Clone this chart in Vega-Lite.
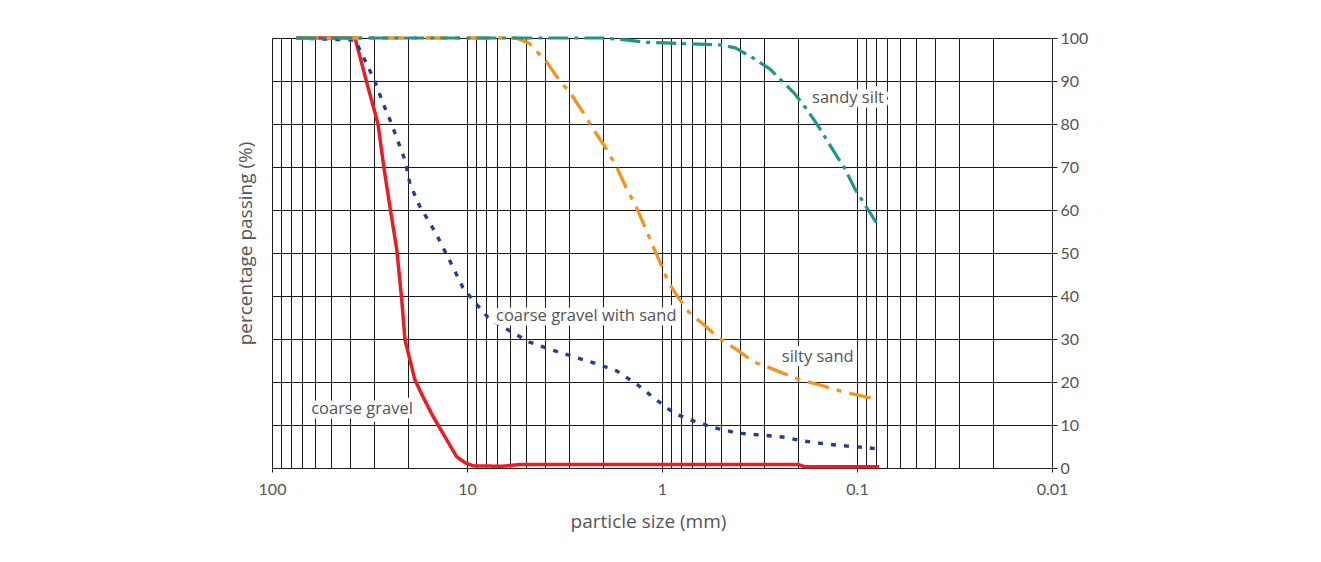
{
  "$schema": "https://vega.github.io/schema/vega-lite/v6.json",
  "width": 780,
  "height": 430,
  "autosize": "none",
  "padding": {"left": 272, "top": 38, "right": 269, "bottom": 94},
  "background": "white",
  "config": {
    "font": "Open Sans",
    "view": {"stroke": null},
    "axis": {
      "labelFont": "Lato",
      "labelFontSize": 16,
      "labelColor": "#555555",
      "titleFont": "Open Sans",
      "titleFontSize": 19,
      "titleFontWeight": "normal",
      "titleColor": "#555555",
      "gridColor": "#1a1a1a",
      "gridWidth": 1,
      "gridOpacity": 1,
      "domainColor": "#222222",
      "tickColor": "#222222",
      "labelFlush": false,
      "labelOverlap": false
    }
  },
  "datasets": {
    "curves": [
      {"series": "coarse gravel", "size": 75, "pct": 100},
      {"series": "coarse gravel", "size": 37.5, "pct": 100},
      {"series": "coarse gravel", "size": 32.6, "pct": 89.5},
      {"series": "coarse gravel", "size": 28.6, "pct": 80},
      {"series": "coarse gravel", "size": 26.7, "pct": 70},
      {"series": "coarse gravel", "size": 25.1, "pct": 62},
      {"series": "coarse gravel", "size": 22.9, "pct": 50.7},
      {"series": "coarse gravel", "size": 21.6, "pct": 39},
      {"series": "coarse gravel", "size": 20.8, "pct": 29.8},
      {"series": "coarse gravel", "size": 18.5, "pct": 20.5},
      {"series": "coarse gravel", "size": 16.8, "pct": 16.5},
      {"series": "coarse gravel", "size": 14.9, "pct": 11.9},
      {"series": "coarse gravel", "size": 13.3, "pct": 8.1},
      {"series": "coarse gravel", "size": 11.3, "pct": 2.6},
      {"series": "coarse gravel", "size": 10.2, "pct": 1.2},
      {"series": "coarse gravel", "size": 9.3, "pct": 0.5},
      {"series": "coarse gravel", "size": 6.6, "pct": 0.4},
      {"series": "coarse gravel", "size": 5.4, "pct": 0.8},
      {"series": "coarse gravel", "size": 0.2, "pct": 0.8},
      {"series": "coarse gravel", "size": 0.185, "pct": 0.3},
      {"series": "coarse gravel", "size": 0.077, "pct": 0.3},

      {"series": "coarse gravel with sand", "size": 75, "pct": 100},
      {"series": "coarse gravel with sand", "size": 37.5, "pct": 99.5},
      {"series": "coarse gravel with sand", "size": 33, "pct": 94.4},
      {"series": "coarse gravel with sand", "size": 29.6, "pct": 89.8},
      {"series": "coarse gravel with sand", "size": 27, "pct": 84.9},
      {"series": "coarse gravel with sand", "size": 24.8, "pct": 80.9},
      {"series": "coarse gravel with sand", "size": 22.9, "pct": 76.7},
      {"series": "coarse gravel with sand", "size": 20.8, "pct": 71.6},
      {"series": "coarse gravel with sand", "size": 19.6, "pct": 66},
      {"series": "coarse gravel with sand", "size": 17.4, "pct": 60.7},
      {"series": "coarse gravel with sand", "size": 14.6, "pct": 55},
      {"series": "coarse gravel with sand", "size": 12.2, "pct": 48},
      {"series": "coarse gravel with sand", "size": 10.5, "pct": 42},
      {"series": "coarse gravel with sand", "size": 9.3, "pct": 39},
      {"series": "coarse gravel with sand", "size": 7.8, "pct": 35},
      {"series": "coarse gravel with sand", "size": 6.25, "pct": 32.3},
      {"series": "coarse gravel with sand", "size": 4.8, "pct": 29.3},
      {"series": "coarse gravel with sand", "size": 3.63, "pct": 27.4},
      {"series": "coarse gravel with sand", "size": 2.9, "pct": 26},
      {"series": "coarse gravel with sand", "size": 2.22, "pct": 24.4},
      {"series": "coarse gravel with sand", "size": 1.71, "pct": 22.6},
      {"series": "coarse gravel with sand", "size": 1.33, "pct": 19.3},
      {"series": "coarse gravel with sand", "size": 1.08, "pct": 16},
      {"series": "coarse gravel with sand", "size": 0.857, "pct": 12.6},
      {"series": "coarse gravel with sand", "size": 0.65, "pct": 10.5},
      {"series": "coarse gravel with sand", "size": 0.51, "pct": 9.1},
      {"series": "coarse gravel with sand", "size": 0.41, "pct": 8.1},
      {"series": "coarse gravel with sand", "size": 0.316, "pct": 7.7},
      {"series": "coarse gravel with sand", "size": 0.24, "pct": 7.2},
      {"series": "coarse gravel with sand", "size": 0.19, "pct": 6.3},
      {"series": "coarse gravel with sand", "size": 0.146, "pct": 5.6},
      {"series": "coarse gravel with sand", "size": 0.112, "pct": 5.1},
      {"series": "coarse gravel with sand", "size": 0.088, "pct": 4.7},
      {"series": "coarse gravel with sand", "size": 0.077, "pct": 4.4},

      {"series": "silty sand", "size": 75, "pct": 100},
      {"series": "silty sand", "size": 5.6, "pct": 100},
      {"series": "silty sand", "size": 4.8, "pct": 98.8},
      {"series": "silty sand", "size": 3.9, "pct": 94.4},
      {"series": "silty sand", "size": 3.37, "pct": 90.2},
      {"series": "silty sand", "size": 2.95, "pct": 87.2},
      {"series": "silty sand", "size": 2.53, "pct": 82.6},
      {"series": "silty sand", "size": 2.2, "pct": 78.1},
      {"series": "silty sand", "size": 1.96, "pct": 74.7},
      {"series": "silty sand", "size": 1.71, "pct": 70},
      {"series": "silty sand", "size": 1.52, "pct": 65},
      {"series": "silty sand", "size": 1.35, "pct": 60.5},
      {"series": "silty sand", "size": 1.23, "pct": 56.3},
      {"series": "silty sand", "size": 1.12, "pct": 51.9},
      {"series": "silty sand", "size": 1.02, "pct": 47.7},
      {"series": "silty sand", "size": 0.93, "pct": 43.3},
      {"series": "silty sand", "size": 0.83, "pct": 39.8},
      {"series": "silty sand", "size": 0.73, "pct": 36.3},
      {"series": "silty sand", "size": 0.6, "pct": 33},
      {"series": "silty sand", "size": 0.51, "pct": 30.2},
      {"series": "silty sand", "size": 0.41, "pct": 27.4},
      {"series": "silty sand", "size": 0.34, "pct": 24.7},
      {"series": "silty sand", "size": 0.27, "pct": 23},
      {"series": "silty sand", "size": 0.196, "pct": 20.5},
      {"series": "silty sand", "size": 0.155, "pct": 19.3},
      {"series": "silty sand", "size": 0.117, "pct": 17.7},
      {"series": "silty sand", "size": 0.089, "pct": 16.5},
      {"series": "silty sand", "size": 0.08, "pct": 16.2},

      {"series": "sandy silt", "size": 75, "pct": 100},
      {"series": "sandy silt", "size": 2.0, "pct": 100},
      {"series": "sandy silt", "size": 1.5, "pct": 99.5},
      {"series": "sandy silt", "size": 1.2, "pct": 99},
      {"series": "sandy silt", "size": 0.9, "pct": 98.8},
      {"series": "sandy silt", "size": 0.6, "pct": 98.5},
      {"series": "sandy silt", "size": 0.5, "pct": 98.4},
      {"series": "sandy silt", "size": 0.42, "pct": 97.7},
      {"series": "sandy silt", "size": 0.34, "pct": 95.3},
      {"series": "sandy silt", "size": 0.28, "pct": 92.8},
      {"series": "sandy silt", "size": 0.24, "pct": 89.8},
      {"series": "sandy silt", "size": 0.21, "pct": 87.2},
      {"series": "sandy silt", "size": 0.18, "pct": 83.3},
      {"series": "sandy silt", "size": 0.157, "pct": 79.3},
      {"series": "sandy silt", "size": 0.131, "pct": 73.5},
      {"series": "sandy silt", "size": 0.116, "pct": 69.8},
      {"series": "sandy silt", "size": 0.103, "pct": 65.1},
      {"series": "sandy silt", "size": 0.091, "pct": 61.2},
      {"series": "sandy silt", "size": 0.077, "pct": 56}
    ],
    "labels": [
      {"label": "sandy silt", "size": 0.17, "pct": 86},
      {"label": "coarse gravel with sand", "size": 7.1, "pct": 35.3},
      {"label": "silty sand", "size": 0.243, "pct": 25.8},
      {"label": "coarse gravel", "size": 63, "pct": 13.7}
    ]
  },
  "layer": [
    {
      "data": {"name": "curves"},
      "mark": {"type": "line", "strokeCap": "butt", "strokeJoin": "round"},
      "encoding": {
        "x": {
          "field": "size", "type": "quantitative",
          "scale": {"type": "log", "domain": [0.01, 100], "reverse": true, "nice": false},
          "axis": {
            "values": [0.01,0.02,0.03,0.04,0.05,0.06,0.07,0.08,0.09,0.1,0.2,0.3,0.4,0.5,0.6,0.7,0.8,0.9,1,2,3,4,5,6,7,8,9,10,20,30,40,50,60,70,80,90,100],
            "grid": true, "labels": false, "ticks": false, "domain": false, "title": null
          }
        },
        "y": {
          "field": "pct", "type": "quantitative",
          "scale": {"domain": [0, 100], "nice": false},
          "axis": {
            "orient": "left",
            "values": [0,10,20,30,40,50,60,70,80,90,100],
            "grid": true, "labels": false, "ticks": false, "domain": false,
            "title": "percentage passing (%)", "titlePadding": 17, "titleY": 205
          }
        },
        "color": {
          "field": "series", "type": "nominal",
          "scale": {
            "domain": ["coarse gravel", "coarse gravel with sand", "silty sand", "sandy silt"],
            "range": ["#ed1c24", "#253c97", "#f6921e", "#1f968b"]
          },
          "legend": null
        },
        "strokeDash": {
          "field": "series", "type": "nominal",
          "scale": {
            "domain": ["coarse gravel", "coarse gravel with sand", "silty sand", "sandy silt"],
            "range": [[1, 0], [5, 8], [22, 8, 5, 8], [20, 6, 4, 6]]
          },
          "legend": null
        },
        "strokeWidth": {
          "field": "series", "type": "nominal",
          "scale": {
            "domain": ["coarse gravel", "coarse gravel with sand", "silty sand", "sandy silt"],
            "range": [3.5, 3.2, 3, 3]
          },
          "legend": null
        }
      }
    },
    {
      "data": {"name": "labels"},
      "mark": {"type": "text", "align": "left", "baseline": "middle", "fontSize": 16.5, "font": "Open Sans", "fill": "white", "stroke": "white", "strokeWidth": 9, "strokeJoin": "round"},
      "encoding": {
        "x": {
          "field": "size", "type": "quantitative",
          "scale": {"type": "log", "domain": [0.01, 100], "reverse": true, "nice": false},
          "axis": {
            "orient": "bottom", "values": [100, 10, 1, 0.1, 0.01], "format": "~g",
            "grid": false, "tickSize": 4, "labelPadding": 9,
            "title": "particle size (mm)", "titlePadding": 15, "titleX": 376
          }
        },
        "y": {
          "field": "pct", "type": "quantitative",
          "scale": {"domain": [0, 100], "nice": false},
          "axis": {
            "orient": "right", "values": [0,10,20,30,40,50,60,70,80,90,100],
            "grid": false, "tickSize": 5, "labelPadding": 3, "title": null
          }
        },
        "text": {"field": "label", "type": "nominal"}
      }
    },
    {
      "data": {"name": "labels"},
      "mark": {"type": "text", "align": "left", "baseline": "middle", "fontSize": 16.5, "font": "Open Sans", "color": "#555555"},
      "encoding": {
        "x": {
          "field": "size", "type": "quantitative",
          "scale": {"type": "log", "domain": [0.01, 100], "reverse": true, "nice": false},
          "axis": null
        },
        "y": {
          "field": "pct", "type": "quantitative",
          "scale": {"domain": [0, 100], "nice": false},
          "axis": null
        },
        "text": {"field": "label", "type": "nominal"}
      }
    }
  ],
  "resolve": {"axis": {"x": "independent", "y": "independent"}}
}
